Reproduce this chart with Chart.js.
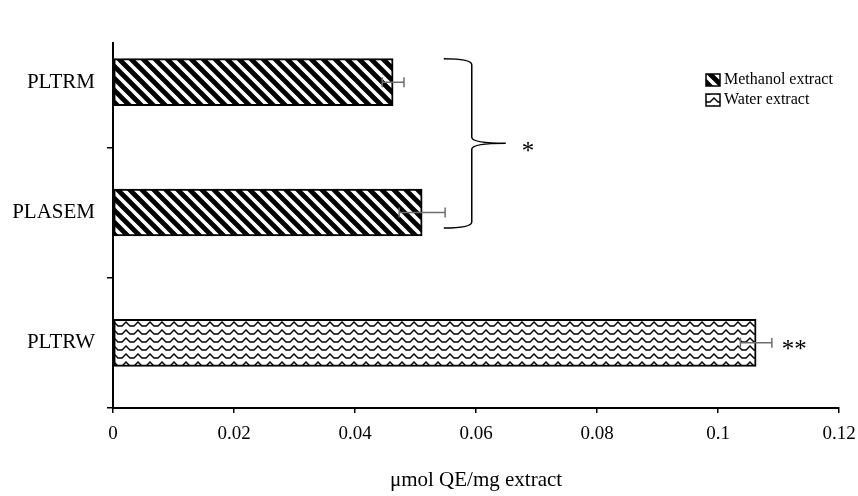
<!DOCTYPE html>
<html>
<head>
<meta charset="utf-8">
<script src="https://cdn.jsdelivr.net/npm/chart.js@4"></script>
<style>
  html, body { margin: 0; padding: 0; background: #fff; }
</style>
</head>
<body>
<canvas id="chart" width="858" height="496"></canvas>
<script>
const categories = ['PLTRM', 'PLASEM', 'PLTRW'];
const methanolValues = [0.0463, 0.0511, null];
const methanolErrors = [0.0018, 0.0038, null];
const waterValues = [null, null, 0.1063];
const waterErrors = [null, null, 0.0026];
const xTicks = [0, 0.02, 0.04, 0.06, 0.08, 0.1, 0.12];
const seriesNames = ['Methanol extract', 'Water extract'];
const axisTitle = 'μmol QE/mg extract';
const groupMark = '*';
const waterMark = '**';

const serif = 'Liberation Serif';

// diagonal "\" stripes for the methanol bars
function stripePattern() {
	let c = document.createElement('canvas');
	c.width = 12; c.height = 12;
	let g = c.getContext('2d');
	g.fillStyle = '#fff';
	g.fillRect(0, 0, 12, 12);
	g.strokeStyle = '#000';
	g.lineWidth = 4.8;
	g.beginPath();
	[-12, 0, 12].forEach(k => {
		g.moveTo(-2, -2 + k);
		g.lineTo(14, 14 + k);
	});
	g.stroke();
	return g.createPattern(c, 'repeat');
}

// wavy lines for the water bar
function wavePattern() {
	let c = document.createElement('canvas');
	c.width = 12; c.height = 8;
	let g = c.getContext('2d');
	g.fillStyle = '#fff';
	g.fillRect(0, 0, 12, 8);
	g.strokeStyle = '#000';
	g.lineWidth = 1.4;
	g.beginPath();
	g.moveTo(-1, 6);
	g.lineTo(2, 6);
	g.lineTo(6, 2);
	g.lineTo(10, 6);
	g.lineTo(13, 6);
	g.stroke();
	return g.createPattern(c, 'repeat');
}

const stripe = stripePattern();
const wave = wavePattern();

const decorations = {
	id: 'decorations',
	afterDatasetsDraw(chart) {
		let ctx = chart.ctx;
		let xs = chart.scales.x;
		let area = chart.chartArea;
		ctx.save();

		// left axis line (starts a bit below the top)
		ctx.strokeStyle = '#000';
		ctx.lineWidth = 2;
		ctx.beginPath();
		ctx.moveTo(area.left, area.top + 25);
		ctx.lineTo(area.left, area.bottom);
		ctx.stroke();

		// error bars
		ctx.strokeStyle = '#6e6e6e';
		ctx.lineWidth = 1.5;
		let sets = [[methanolValues, methanolErrors], [waterValues, waterErrors]];
		sets.forEach((s, d) => {
			let meta = chart.getDatasetMeta(d);
			s[0].forEach((v, i) => {
				if (v === null) return;
				let y = meta.data[i].y;
				let x0 = xs.getPixelForValue(v - s[1][i]);
				let x1 = xs.getPixelForValue(v + s[1][i]);
				ctx.beginPath();
				ctx.moveTo(x0, y); ctx.lineTo(x1, y);
				ctx.moveTo(x0, y - 5); ctx.lineTo(x0, y + 5);
				ctx.moveTo(x1, y - 5); ctx.lineTo(x1, y + 5);
				ctx.stroke();
			});
		});

		// brace grouping the two methanol bars
		let m = chart.getDatasetMeta(0);
		let top = m.data[0].y - m.data[0].height / 2;
		let bottom = m.data[1].y + m.data[1].height / 2 - 8;
		let mid = (top + bottom) / 2;
		let bx = xs.getPixelForValue(0.0593);
		ctx.strokeStyle = '#000';
		ctx.lineWidth = 1.5;
		ctx.beginPath();
		ctx.moveTo(bx - 28, top);
		ctx.quadraticCurveTo(bx, top, bx, top + 6);
		ctx.lineTo(bx, mid - 6);
		ctx.quadraticCurveTo(bx, mid, bx + 34, mid);
		ctx.quadraticCurveTo(bx, mid, bx, mid + 6);
		ctx.lineTo(bx, bottom - 6);
		ctx.quadraticCurveTo(bx, bottom, bx - 28, bottom);
		ctx.stroke();

		ctx.fillStyle = '#000';
		ctx.font = '25px "' + serif + '"';
		ctx.textBaseline = 'middle';
		ctx.textAlign = 'left';
		ctx.fillText(groupMark, bx + 50, mid + 9);

		let w = chart.getDatasetMeta(1).data[2];
		let wx = xs.getPixelForValue(waterValues[2] + waterErrors[2]);
		ctx.fillText(waterMark, wx + 10, w.y + 8);

		// legend
		let fills = [stripe, wave];
		ctx.font = '16px "' + serif + '"';
		seriesNames.forEach((name, i) => {
			let ly = 74 + i * 20;
			ctx.fillStyle = fills[i];
			ctx.fillRect(706, ly, 14, 12);
			ctx.strokeStyle = '#000';
			ctx.lineWidth = 1.5;
			ctx.strokeRect(706, ly, 14, 12);
			ctx.fillStyle = '#000';
			ctx.fillText(name, 724, ly + 6);
		});
		ctx.restore();
	}
};

new Chart(document.getElementById('chart'), {
	type: 'bar',
	data: {
		labels: categories,
		datasets: [{
			label: seriesNames[0],
			data: methanolValues,
			backgroundColor: stripe,
			borderColor: '#000',
			borderWidth: 2,
			borderSkipped: false,
			barThickness: 47,
			skipNull: true
		}, {
			label: seriesNames[1],
			data: waterValues,
			backgroundColor: wave,
			borderColor: '#000',
			borderWidth: 2,
			borderSkipped: false,
			barThickness: 47,
			skipNull: true
		}]
	},
	options: {
		indexAxis: 'y',
		responsive: false,
		animation: false,
		layout: { padding: { top: 17, right: 19, left: 0, bottom: 0 } },
		plugins: {
			legend: { display: false },
			tooltip: { enabled: false }
		},
		scales: {
			x: {
				min: 0,
				max: 0.12,
				afterBuildTicks: s => { s.ticks = xTicks.map(v => ({ value: v })); },
				afterFit: s => {
					s.height = 88;
					s.paddingLeft = 0;
					s.paddingRight = 0;
				},
				ticks: {
					color: '#000',
					padding: 10,
					font: { family: serif, size: 19 },
					callback: v => String(v)
				},
				grid: { drawOnChartArea: false, tickLength: 5, color: '#000', lineWidth: 1.5 },
				border: { color: '#000', width: 2 },
				title: {
					display: true,
					text: axisTitle,
					color: '#000',
					font: { family: serif, size: 21 },
					padding: { top: 0, bottom: 3 }
				}
			},
			y: {
				afterFit: s => {
					s.width = 113;
					s.paddingTop = 0;
					s.paddingBottom = 0;
				},
				ticks: {
					color: '#000',
					padding: 12,
					font: { family: serif, size: 21 }
				},
				grid: {
					offset: true,
					drawOnChartArea: false,
					tickLength: 6,
					lineWidth: 1.5,
					color: c => c.index === 0 ? 'rgba(0,0,0,0)' : '#000'
				},
				border: { display: false }
			}
		}
	},
	plugins: [decorations]
});
</script>
</body>
</html>
